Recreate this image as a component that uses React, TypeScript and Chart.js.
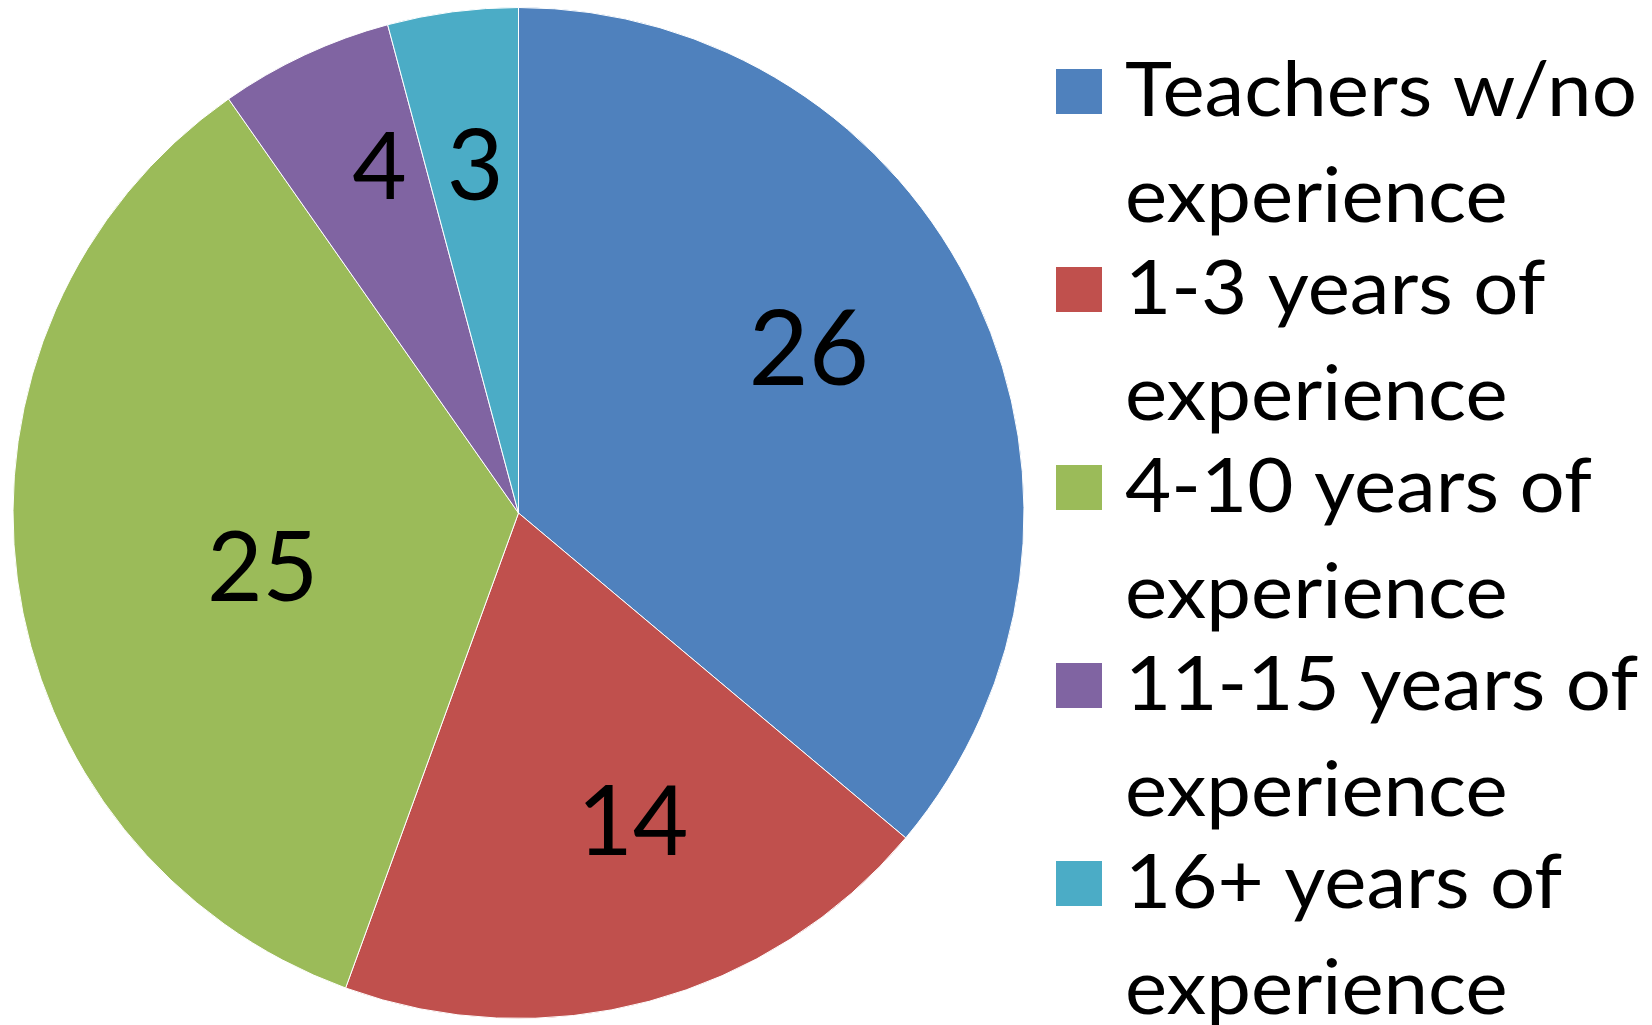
import React, { useEffect, useRef } from "react";
import { Chart, registerables } from "chart.js";

Chart.register(...registerables);

const categories = [
  "Teachers w/no experience",
  "1-3 years of experience",
  "4-10 years of experience",
  "11-15 years of experience",
  "16+ years of experience",
];
const values = [26, 14, 25, 4, 3];
const colors = ["#4F81BD", "#C0504D", "#9BBB59", "#8064A2", "#4BACC6"];

const FONT = "Lato, 'Noto Sans', sans-serif";

const labelPlugin = {
  id: "sliceLabels",
  afterDatasetsDraw(chart: any, _args: any, opts: any) {
    const ctx = chart.ctx;
    const meta = chart.getDatasetMeta(0);
    ctx.save();
    ctx.fillStyle = "#000";
    ctx.textAlign = "center";
    ctx.textBaseline = "alphabetic";
    meta.data.forEach((arc: any, i: number) => {
      const p = arc.getProps(["x", "y", "startAngle", "endAngle", "outerRadius"], true);
      const mid = (p.startAngle + p.endAngle) / 2 + (opts.angleShift[i] * Math.PI) / 180;
      const r = p.outerRadius * opts.radial[i];
      const cx = p.x + Math.cos(mid) * r;
      const cy = p.y + Math.sin(mid) * r;
      ctx.font = `${opts.sizes[i]}px ${FONT}`;
      const text = String(chart.data.datasets[0].data[i]);
      const m = ctx.measureText(text);
      const off = (m.actualBoundingBoxAscent - m.actualBoundingBoxDescent) / 2;
      ctx.fillText(text, cx, cy + off);
    });
    ctx.restore();
  },
};

const legendPlugin = {
  id: "wrapLegend",
  afterDraw(chart: any, _args: any, opts: any) {
    const ctx = chart.ctx;
    const labels: string[] = chart.data.labels;
    const bg: string[] = chart.data.datasets[0].backgroundColor;
    const boxX = chart.chartArea.right + opts.gap;
    const textX = boxX + opts.boxW + opts.textGap;
    const maxWidth = chart.width - textX - 2;
    ctx.save();
    ctx.font = `${opts.size}px ${FONT}`;
    ctx.textAlign = "left";
    ctx.textBaseline = "alphabetic";
    labels.forEach((label, i) => {
      const words = label.split(" ");
      const lines: string[] = [];
      let cur = "";
      words.forEach((w) => {
        const t = cur ? cur + " " + w : w;
        if (cur && ctx.measureText(t).width * opts.stretch > maxWidth) {
          lines.push(cur);
          cur = w;
        } else cur = t;
      });
      if (cur) lines.push(cur);
      const base = opts.firstBaseline + i * opts.itemStep;
      ctx.fillStyle = bg[i];
      ctx.fillRect(boxX, base - opts.boxH - 2, opts.boxW, opts.boxH);
      ctx.fillStyle = "#000";
      lines.forEach((ln, j) => {
        ctx.save();
        ctx.translate(textX, base + j * opts.lineStep);
        ctx.scale(opts.stretch, 1);
        ctx.fillText(ln, 0, 0);
        ctx.restore();
      });
    });
    ctx.restore();
  },
};

export default function App() {
  const ref = useRef<HTMLCanvasElement | null>(null);
  useEffect(() => {
    if (!ref.current) return;
    const chart = new Chart(ref.current, {
      type: "pie",
      data: {
        labels: categories,
        datasets: [
          {
            data: values,
            backgroundColor: colors,
            borderColor: "#ffffff",
            borderWidth: 1,
            hoverOffset: 0,
          },
        ],
      },
      options: {
        animation: false,
        responsive: false,
        maintainAspectRatio: false,
        layout: { padding: { left: 12, right: 627, top: 7, bottom: 6 } },
        plugins: {
          legend: { display: false },
          tooltip: { enabled: false },
          sliceLabels: {
            radial: [0.661, 0.649, 0.517, 0.74, 0.694],
            angleShift: [-4.7, -5.4, -4.2, 3.2, 0.4],
            sizes: [104, 96, 96, 94, 98],
          },
          wrapLegend: {
            gap: 31,
            boxW: 46,
            boxH: 45,
            textGap: 23,
            size: 76,
            stretch: 1.05,
            firstBaseline: 116,
            itemStep: 198,
            lineStep: 105.7,
          },
        } as any,
      },
      plugins: [labelPlugin, legendPlugin],
    });
    return () => chart.destroy();
  }, []);
  return (
    <div style={{ position: "absolute", left: 0, top: 0, width: 1652, height: 1025, background: "#fff" }}>
      <canvas ref={ref} width={1652} height={1025} style={{ display: "block", width: 1652, height: 1025 }} />
    </div>
  );
}
